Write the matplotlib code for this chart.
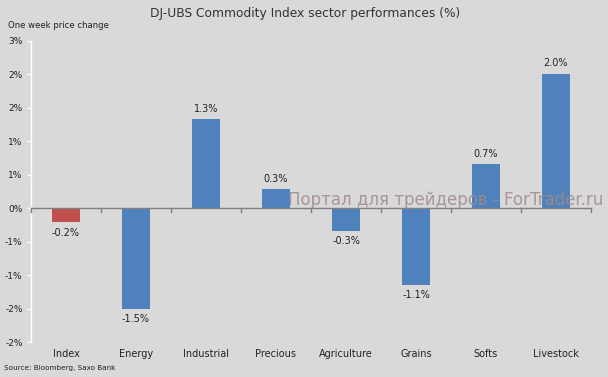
import matplotlib
matplotlib.use("Agg")
import matplotlib.pyplot as plt
import numpy as np

categories = ["Index", "Energy", "Industrial", "Precious", "Agriculture", "Grains", "Softs", "Livestock"]
values = [-0.21, -1.50, 1.33, 0.28, -0.34, -1.15, 0.66, 2.01]
value_labels = ["-0.2%", "-1.5%", "1.3%", "0.3%", "-0.3%", "-1.1%", "0.7%", "2.0%"]
colors = ["#c0504d", "#4f81bd", "#4f81bd", "#4f81bd", "#4f81bd", "#4f81bd", "#4f81bd", "#4f81bd"]
ytick_vals = [-2.0, -1.5, -1.0, -0.5, 0.0, 0.5, 1.0, 1.5, 2.0, 2.5]
ytick_labels = ["-2%", "-2%", "-1%", "-1%", "0%", "1%", "1%", "2%", "2%", "3%"]

bg = "#d9d9d9"
W, H = 608, 377
fig = plt.figure(figsize=(W / 100, H / 100), dpi=100, facecolor=bg)
ax = fig.add_axes([31 / W, 1 - 342 / H, 560 / W, 301 / H])
ax.set_facecolor(bg)

x = np.arange(len(categories))
ax.bar(x, values, width=0.4, color=colors, zorder=2)
ax.set_xlim(-0.5, len(categories) - 0.5)
ax.set_ylim(-2.0, 2.5)

for xi, v, lab in zip(x, values, value_labels):
    if v >= 0:
        ax.text(xi, v + 0.08, lab, ha="center", va="bottom", fontsize=7, color="#222222")
    else:
        ax.text(xi, v - 0.08, lab, ha="center", va="top", fontsize=7, color="#222222")

# zero line with category boundary ticks
ax.axhline(0, color="#808080", lw=1.0, zorder=3)
for b in np.arange(-0.5, len(categories), 1.0):
    ax.plot([b, b], [0, -0.06], color="#808080", lw=1.0, zorder=3, clip_on=False)

for s in ["top", "right", "bottom"]:
    ax.spines[s].set_visible(False)
ax.spines["left"].set_color("white")
ax.spines["left"].set_linewidth(1.0)

ax.set_yticks(ytick_vals)
ax.set_yticklabels(ytick_labels, fontsize=6.5, color="#222222")
ax.tick_params(axis="y", colors="white", length=3, width=1, labelcolor="#222222", pad=3)

ax.set_xticks(x)
ax.set_xticklabels(categories, fontsize=7, color="#222222")
ax.tick_params(axis="x", length=0, pad=5)

fig.text(305 / W, 1 - 13 / H, "DJ-UBS Commodity Index sector performances (%)",
         ha="center", va="center", fontsize=8.8, color="#333333")
fig.text(8 / W, 1 - 25 / H, "One week price change", ha="left", va="center", fontsize=6.1, color="#222222")
fig.text(4 / W, 1 - 368 / H, "Source: Bloomberg, Saxo Bank", ha="left", va="center", fontsize=5.2, color="#222222")
fig.text(446 / W, 1 - 200 / H, "Портал для трейдеров - ForTrader.ru", ha="center", va="center",
         fontsize=12, color="#a08a8a", alpha=0.85, zorder=10)

fig.savefig("out.png", dpi=100, facecolor=bg)
